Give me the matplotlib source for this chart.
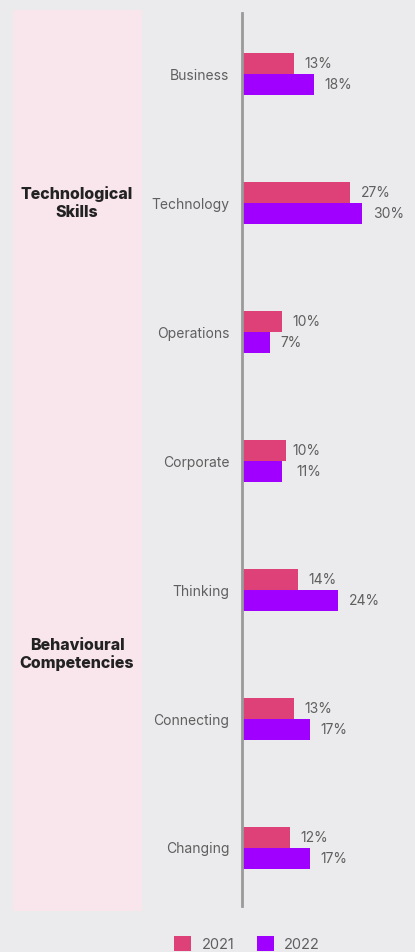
import numpy as np
import matplotlib.pyplot as plt
from matplotlib.patches import Rectangle

# data (bar lengths as drawn, and the printed labels — Corporate's differ in the source)
categories = ["Business", "Technology", "Operations", "Corporate",
              "Thinking", "Connecting", "Changing"]
vals_2021 = [13, 27, 10, 11, 14, 13, 12]
vals_2022 = [18, 30, 7, 10, 24, 17, 17]
lab_2021 = [13, 27, 10, 10, 14, 13, 12]
lab_2022 = [18, 30, 7, 11, 24, 17, 17]
groups = ["Technological\nSkills", "Behavioural\nCompetencies"]
group_pos = [1, 4.5]

c2021 = "#de4078"
c2022 = "#a000ff"
bg = "#ebebed"
W, H = 415, 952

plt.rcParams['font.family'] = ['Inter', 'DejaVu Sans']

fig = plt.figure(figsize=(W / 100, H / 100), dpi=100, facecolor=bg)

# pink side panel
fig.add_artist(Rectangle((13 / W, 1 - 911 / H), 129 / W, 901 / H,
                         transform=fig.transFigure, facecolor="#f9e6ec",
                         edgecolor="none", zorder=0))

ax = fig.add_axes([242 / W, 1 - 912.5 / H, (W - 242) / W, 903 / H])
ax.set_facecolor("none")

y = np.arange(len(categories))
h = 0.163
b1 = ax.barh(y - h / 2, vals_2021, height=h, color=c2021, label="2021")
b2 = ax.barh(y + h / 2, vals_2022, height=h, color=c2022, label="2022")

for bars, labs in ((b1, lab_2021), (b2, lab_2022)):
    for rect, v in zip(bars, labs):
        ax.text(v + 2.7, rect.get_y() + rect.get_height() / 2 + 0.005, f"{v}%",
                va="center", ha="left", fontsize=10, color="#5f5f5f")

ax.set_xlim(0, (W - 242) / 4)
ax.set_ylim(6.5, -0.5)
ax.set_yticks(y)
ax.set_yticklabels(categories, fontsize=10, color="#5f5f5f")
ax.tick_params(axis="y", length=0, pad=9)
ax.set_xticks([])
for s in ["top", "right", "bottom"]:
    ax.spines[s].set_visible(False)
ax.spines["left"].set_color("#9a9a9a")
ax.spines["left"].set_linewidth(2)
ax.spines["left"].set_bounds(6.45, -0.47)

# group labels in the panel
for g, p in zip(groups, group_pos):
    yy = ax.transData.transform((0, p))[1]
    fy = fig.transFigure.inverted().transform((0, yy))[1]
    fig.text(77 / W, fy, g, ha="center", va="center", fontsize=11.5,
             fontweight="heavy", color="#222222", linespacing=1.2)

fig.legend(handles=[b1, b2], loc="center", bbox_to_anchor=(247 / W, 1 - 944 / H),
           ncol=2, frameon=False, fontsize=10.5, labelcolor="#5f5f5f",
           handlelength=1.15, handleheight=1.15, handletextpad=0.7,
           columnspacing=1.55)

fig.savefig("out.png", dpi=100, facecolor=bg)
